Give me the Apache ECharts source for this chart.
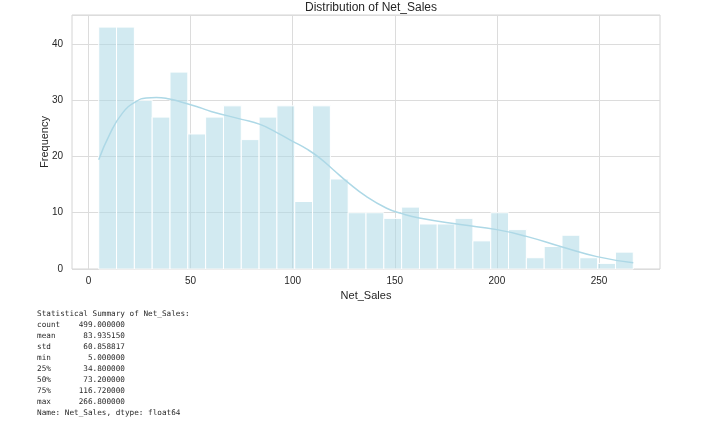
<!DOCTYPE html>
<html>
<head>
<meta charset="utf-8">
<script src="https://cdn.jsdelivr.net/npm/echarts@6/dist/echarts.min.js"></script>
<style>
html,body{margin:0;padding:0;background:#fff;}
#c{width:720px;height:426px;}
</style>
</head>
<body>
<div id="c"></div>
<script>
// ---- data ----
const dataMin = 5.0;
const dataMax = 266.8;
const binCount = 30;
const binCounts = [43,43,30,27,35,24,27,29,23,27,29,12,29,16,10,10,9,11,8,8,9,5,10,7,2,4,6,2,1,3];
const kdeX = [5,10.3,16.8,23.4,28.3,33.2,39.7,46.2,54.4,60,75,84,92,100,107,113,120,127,136,146,153,162,182,200,214.5,232,249,266.8];
const kdeY = [19.4,23.9,27.8,29.8,30.4,30.5,30.2,29.6,28.7,28.0,26.6,25.7,24.3,22.7,21.3,19.8,17.6,15.4,12.9,10.8,9.9,9.05,7.9,7.0,5.8,3.9,2.2,1.1];
const xTicks = [0,50,100,150,200,250];
const summaryLines = [
  "Statistical Summary of Net_Sales:",
  "count    499.000000",
  "mean      83.935150",
  "std       60.858817",
  "min        5.000000",
  "25%       34.800000",
  "50%       73.200000",
  "75%      116.720000",
  "max      266.800000",
  "Name: Net_Sales, dtype: float64"
];

const binWidth = (dataMax - dataMin) / binCount;
const histData = binCounts.map((c, i) => [dataMin + i * binWidth, dataMin + (i + 1) * binWidth, c]);
const kdeData = kdeX.map((x, i) => [x, kdeY[i]]);
const pad = (dataMax - dataMin) * 0.05;

const chart = echarts.init(document.getElementById('c'));
chart.setOption({
  animation: false,
  backgroundColor: '#ffffff',
  title: {
    text: 'Distribution of Net_Sales',
    left: 366, top: -3, textAlign: 'center',
    textStyle: {fontFamily: 'Liberation Sans, Arial, sans-serif', fontSize: 12, fontWeight: 'normal', color: '#262626'}
  },
  grid: {left: 72, right: 60, top: 15, bottom: 157, show: true, borderColor: '#d4d4d4', borderWidth: 1},
  xAxis: {
    type: 'value', min: dataMin - pad, max: dataMax + pad,
    name: 'Net_Sales', nameLocation: 'middle', nameGap: 21,
    nameTextStyle: {fontFamily: 'Liberation Sans, Arial, sans-serif', fontSize: 11, color: '#262626'},
    axisLine: {show: false},
    axisTick: {show: false, customValues: xTicks},
    axisLabel: {customValues: xTicks, color: '#262626', fontSize: 10, margin: 7, fontFamily: 'Liberation Sans, Arial, sans-serif'},
    splitLine: {show: true, lineStyle: {color: '#dcdcdc', width: 1}}
  },
  yAxis: {
    type: 'value', min: 0, max: 45.15, interval: 10,
    name: 'Frequency', nameLocation: 'middle', nameGap: 22, nameMoveOverlap: false,
    nameTextStyle: {fontFamily: 'Liberation Sans, Arial, sans-serif', fontSize: 11, color: '#262626'},
    axisLine: {show: false}, axisTick: {show: false},
    axisLabel: {color: '#262626', fontSize: 10, margin: 9, fontFamily: 'Liberation Sans, Arial, sans-serif', showMaxLabel: false},
    splitLine: {show: true, lineStyle: {color: '#dcdcdc', width: 1}}
  },
  series: [
    {
      type: 'custom',
      data: histData,
      renderItem: function (params, api) {
        const p0 = api.coord([api.value(0), api.value(2)]);
        const p1 = api.coord([api.value(1), 0]);
        return {
          type: 'rect',
          shape: {x: p0[0], y: p0[1], width: p1[0] - p0[0], height: p1[1] - p0[1]},
          style: {fill: 'rgba(173,216,230,0.55)', stroke: '#ffffff', lineWidth: 1}
        };
      },
      encode: {x: [0, 1], y: 2}
    },
    {
      type: 'line', data: kdeData, smooth: 0.5, showSymbol: false,
      lineStyle: {color: '#add8e6', width: 1.5}, z: 5
    }
  ],
  graphic: [{
    type: 'text', left: 37, top: 309,
    style: {
      text: summaryLines.join('\n'),
      fontFamily: 'DejaVu Sans Mono, Liberation Mono, monospace',
      fontSize: 7.7, lineHeight: 11, fill: '#2b2b2b'
    }
  }]
});
</script>
</body>
</html>
